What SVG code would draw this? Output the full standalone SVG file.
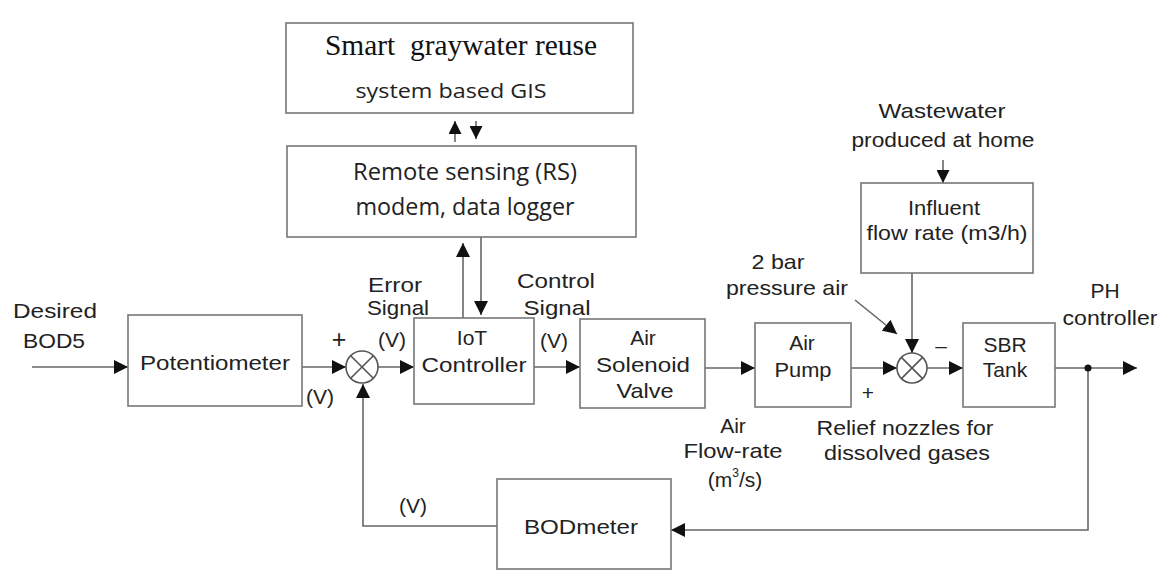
<svg xmlns="http://www.w3.org/2000/svg" width="1166" height="584" viewBox="0 0 1166 584">
<defs>
<marker id="ah" markerUnits="userSpaceOnUse" markerWidth="14" markerHeight="14" viewBox="0 0 14 14" refX="14" refY="7" orient="auto">
<path d="M0,0 L14,7 L0,14 Z" fill="#111"/>
</marker>
<marker id="ahs" markerUnits="userSpaceOnUse" markerWidth="13" markerHeight="13" viewBox="0 0 13 13" refX="13" refY="6.5" orient="auto">
<path d="M0,0 L13,6.5 L0,13 Z" fill="#111"/>
</marker>
</defs>
<style>
.box{fill:#fff;stroke:#777;stroke-width:1.6}
.ln{fill:none;stroke:#666;stroke-width:1.6}
.t{font-family:"Liberation Sans",Arial,sans-serif;font-size:21px;fill:#222;text-anchor:middle}
.c{font-family:"Open Sans","Noto Sans",sans-serif;fill:#222;text-anchor:middle}
.s{font-family:"Liberation Serif","Times New Roman",serif;fill:#111;text-anchor:middle}
</style>
<rect width="1166" height="584" fill="#fff"/>

<g id="connectors">
<line class="ln" x1="455" y1="142" x2="455" y2="121" marker-end="url(#ahs)"/>
<line class="ln" x1="476" y1="121" x2="476" y2="139" marker-end="url(#ahs)"/>
<line class="ln" x1="463" y1="318" x2="463" y2="243" marker-end="url(#ah)"/>
<line class="ln" x1="481" y1="237" x2="481" y2="315" marker-end="url(#ah)"/>
<line class="ln" x1="32" y1="367" x2="128" y2="367" marker-end="url(#ah)"/>
<line class="ln" x1="302" y1="367" x2="346" y2="367" marker-end="url(#ah)"/>
<line class="ln" x1="378" y1="367" x2="414" y2="367" marker-end="url(#ah)"/>
<line class="ln" x1="534" y1="367" x2="580" y2="367" marker-end="url(#ah)"/>
<line class="ln" x1="705" y1="368" x2="755" y2="368" marker-end="url(#ah)"/>
<line class="ln" x1="851" y1="368" x2="897" y2="368" marker-end="url(#ah)"/>
<line class="ln" x1="927" y1="368" x2="963" y2="368" marker-end="url(#ah)"/>
<line class="ln" x1="1055" y1="368" x2="1137" y2="368" marker-end="url(#ah)"/>
<line class="ln" x1="912" y1="273" x2="912" y2="353" marker-end="url(#ah)"/>
<line class="ln" x1="855" y1="300" x2="897" y2="334" marker-end="url(#ah)"/>
<line class="ln" x1="943" y1="160" x2="943" y2="183" marker-end="url(#ahs)"/>
<polyline class="ln" points="1088,368 1088,530 671,530" marker-end="url(#ah)"/>
<polyline class="ln" points="497,526 363,526 363,384" marker-end="url(#ah)"/>
<circle cx="1088" cy="368" r="3.5" fill="#111"/>
</g>

<g id="gis">
<rect class="box" x="286" y="23" width="347" height="90"/>
<text class="s" x="461" y="55" style="font-size:29px" textLength="272" lengthAdjust="spacingAndGlyphs" xml:space="preserve">Smart  graywater reuse</text>
<text class="c" x="451" y="98" style="font-size:20px" textLength="191" lengthAdjust="spacingAndGlyphs">system based GIS</text>
</g>

<g id="rs">
<rect class="box" x="287" y="146" width="349" height="91"/>
<text class="c" x="465" y="180" style="font-size:23px" textLength="224" lengthAdjust="spacingAndGlyphs">Remote sensing (RS)</text>
<text class="c" x="465" y="215" style="font-size:23px" textLength="219" lengthAdjust="spacingAndGlyphs">modem, data logger</text>
</g>

<g id="input-label">
<text class="t" x="55" y="318" textLength="84" lengthAdjust="spacingAndGlyphs">Desired</text>
<text class="t" x="54" y="348" textLength="62" lengthAdjust="spacingAndGlyphs">BOD5</text>
</g>

<g id="potentiometer">
<rect class="box" x="128" y="315" width="174" height="91"/>
<text class="t" x="215" y="370" textLength="150" lengthAdjust="spacingAndGlyphs">Potentiometer</text>
<text class="t" x="320" y="404">(V)</text>
</g>

<g id="sum1">
<circle cx="362" cy="367" r="16" fill="#fff" stroke="#555" stroke-width="1.6"/>
<path d="M350.7,355.7 L373.3,378.3 M373.3,355.7 L350.7,378.3" stroke="#555" stroke-width="1.6"/>
<text class="t" x="339" y="348" style="font-size:25px">+</text>
</g>

<g id="error-label">
<text class="t" x="395" y="292" textLength="54" lengthAdjust="spacingAndGlyphs">Error</text>
<text class="t" x="398" y="315" textLength="62" lengthAdjust="spacingAndGlyphs">Signal</text>
<text class="t" x="392" y="347">(V)</text>
</g>

<g id="iot">
<rect class="box" x="414" y="318" width="120" height="86"/>
<text class="t" x="472" y="345">IoT</text>
<text class="t" x="474" y="372" textLength="105" lengthAdjust="spacingAndGlyphs">Controller</text>
</g>

<g id="control-label">
<text class="t" x="556" y="288" textLength="78" lengthAdjust="spacingAndGlyphs">Control</text>
<text class="t" x="557" y="315" textLength="67" lengthAdjust="spacingAndGlyphs">Signal</text>
<text class="t" x="554" y="348">(V)</text>
</g>

<g id="valve">
<rect class="box" x="580" y="319" width="125" height="89"/>
<text class="t" x="643" y="345">Air</text>
<text class="t" x="643" y="372" textLength="94" lengthAdjust="spacingAndGlyphs">Solenoid</text>
<text class="t" x="645" y="398" textLength="57" lengthAdjust="spacingAndGlyphs">Valve</text>
</g>

<g id="airflow-label">
<text class="t" x="733" y="433">Air</text>
<text class="t" x="733" y="458" textLength="99" lengthAdjust="spacingAndGlyphs">Flow-rate</text>
<text class="t" x="735" y="487">(m<tspan style="font-size:12px" dy="-10">3</tspan><tspan dy="10">/s)</tspan></text>
</g>

<g id="pump">
<rect class="box" x="755" y="323" width="96" height="84"/>
<text class="t" x="802" y="350">Air</text>
<text class="t" x="803" y="377" textLength="57" lengthAdjust="spacingAndGlyphs">Pump</text>
</g>

<g id="pressure-label">
<text class="t" x="778" y="269" textLength="53" lengthAdjust="spacingAndGlyphs">2 bar</text>
<text class="t" x="787" y="295" textLength="122" lengthAdjust="spacingAndGlyphs">pressure air</text>
</g>

<g id="wastewater-label">
<text class="t" x="942" y="118" textLength="127" lengthAdjust="spacingAndGlyphs">Wastewater</text>
<text class="t" x="943" y="147" textLength="183" lengthAdjust="spacingAndGlyphs">produced at home</text>
</g>

<g id="influent">
<rect class="box" x="861" y="183" width="172" height="90"/>
<text class="t" x="944" y="215" textLength="72" lengthAdjust="spacingAndGlyphs">Influent</text>
<text class="t" x="947" y="240" textLength="161" lengthAdjust="spacingAndGlyphs">flow rate (m3/h)</text>
</g>

<g id="sum2">
<circle cx="912" cy="368" r="15" fill="#fff" stroke="#555" stroke-width="1.6"/>
<path d="M901.4,357.4 L922.6,378.6 M922.6,357.4 L901.4,378.6" stroke="#555" stroke-width="1.6"/>
<text class="t" x="941" y="353">–</text>
<text class="t" x="868" y="400">+</text>
</g>

<g id="relief-label">
<text class="t" x="905" y="435" textLength="177" lengthAdjust="spacingAndGlyphs">Relief nozzles for</text>
<text class="t" x="907" y="460" textLength="166" lengthAdjust="spacingAndGlyphs">dissolved gases</text>
</g>

<g id="sbr">
<rect class="box" x="963" y="323" width="92" height="84"/>
<text class="t" x="1005" y="352">SBR</text>
<text class="t" x="1005" y="377">Tank</text>
</g>

<g id="ph-label">
<text class="t" x="1105" y="298">PH</text>
<text class="t" x="1110" y="325" textLength="95" lengthAdjust="spacingAndGlyphs">controller</text>
</g>

<g id="bod-meter">
<rect class="box" x="497" y="479" width="174" height="90"/>
<text class="t" x="581" y="534" textLength="114" lengthAdjust="spacingAndGlyphs">BODmeter</text>
<text class="t" x="413" y="513">(V)</text>
</g>
</svg>
